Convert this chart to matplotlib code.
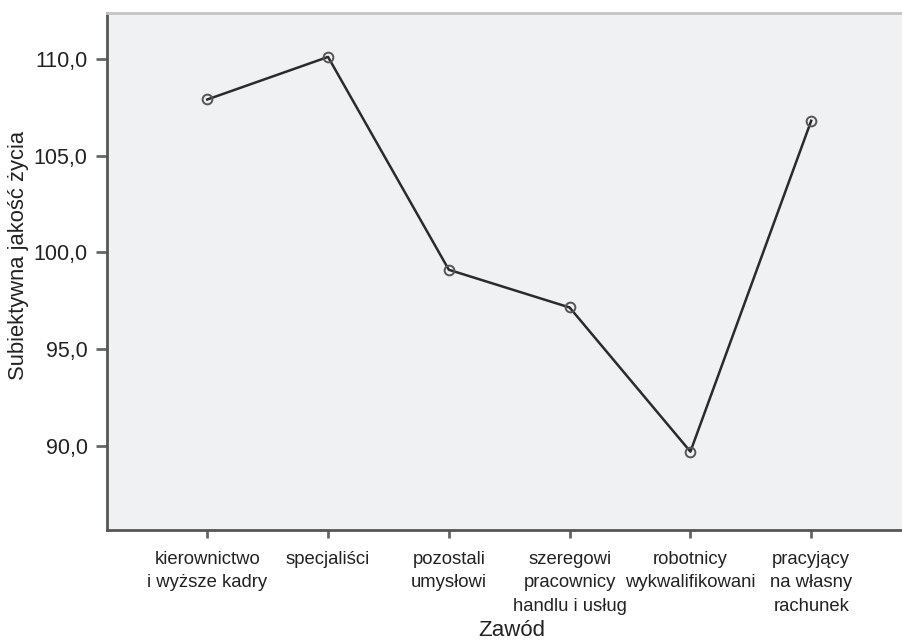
import numpy as np
import matplotlib
matplotlib.use("Agg")
from matplotlib import pyplot as plt

# chart data
categories = [
    "kierownictwo\ni wyższe kadry",
    "specjaliści",
    "pozostali\numysłowi",
    "szeregowi\npracownicy\nhandlu i usług",
    "robotnicy\nwykwalifikowani",
    "pracyjący\nna własny\nrachunek",
]
values = [107.9, 110.1, 99.1, 97.15, 89.7, 106.8]
y_ticks = [90.0, 95.0, 100.0, 105.0, 110.0]

plt.rcParams["font.family"] = ["Liberation Sans", "DejaVu Sans"]

W, H = 903, 642
fig = plt.figure(figsize=(W / 100, H / 100), dpi=100)
ax = fig.add_axes([107 / W, 1 - 530 / H, 1 - 107 / W, (530 - 13) / H])
ax.set_facecolor("#f0f1f3")

x = np.arange(len(categories))
ax.plot(x, values, "-", color="#2b2b2b", lw=1.8, zorder=2)
ax.plot(x, values, "o", ms=7, mfc="none", mec="#555555", mew=1.4, zorder=3)

ax.set_xlim(-0.83, 5.76)
ax.set_ylim(85.65, 112.37)
ax.set_yticks(y_ticks)
ax.set_yticklabels([f"{v:.1f}".replace(".", ",") for v in y_ticks], fontsize=15.5, color="#222222")
ax.set_xticks(x)
ax.set_xticklabels(categories, fontsize=13.3, color="#222222", linespacing=1.5)

ax.tick_params(axis="y", direction="out", length=8, width=2, color="#666666", pad=6)
ax.tick_params(axis="x", direction="out", length=6, width=2, color="#666666", pad=9)

ax.spines["right"].set_visible(False)
ax.spines["top"].set_color("#c4c4c4")
ax.spines["top"].set_linewidth(2)
for s in ("left", "bottom"):
    ax.spines[s].set_color("#555555")
    ax.spines[s].set_linewidth(2)

ax.set_ylabel("Subiektywna jakość życia", fontsize=15.8, color="#222222", va="center")
ax.yaxis.set_label_coords(-88 / (W - 107), 1 - (255 - 13) / (530 - 13))
ax.set_xlabel("Zawód", fontsize=16, color="#222222", va="center")
ax.xaxis.set_label_coords((512 - 107) / (W - 107), -(630 - 530) / (530 - 13))

fig.savefig("out.png", dpi=100)
